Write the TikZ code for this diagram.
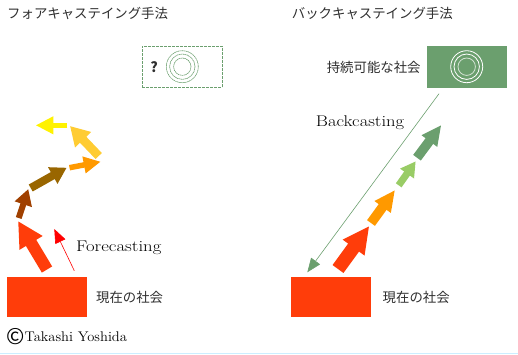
\documentclass[tikz,border=0pt]{standalone}
\usepackage{fontspec}
\usepackage{graphicx}
\usepackage{color}
\usetikzlibrary{arrows.meta}
\usetikzlibrary{positioning}
\newfontfamily\cjk{Noto Sans CJK JP}
\newcommand{\widetext}[2]{\scalebox{#1}[1]{#2}}
\definecolor{nowred}{HTML}{FF3D0A}
\definecolor{goalgreen}{HTML}{6B9F6E}
\definecolor{inkgray}{HTML}{2E2E2E}

\begin{document}
\begin{tikzpicture}[x=1pt,y=-1pt,node distance=9pt,
                    fat/.style n args={3}{line width=#1pt,-{Triangle[length=#2pt,width=#3pt]}},
                    thin arrow/.style={line width=0.6pt,-{Triangle[length=14pt,width=11pt]}},
                    nowbox/.style={rectangle,fill=nowred,minimum width=80pt,minimum height=39.5pt,inner sep=0pt},
                    goalbox/.style={rectangle,minimum width=80pt,minimum height=41pt,inner sep=0pt},
                    jp/.style={font=\cjk\fontsize{13.4}{13.4}\selectfont,text=inkgray,inner sep=0pt},
                    en/.style={font=\fontsize{15.5}{15.5}\selectfont,text=black,inner sep=0pt}]

  \useasboundingbox (0,0) rectangle (518,354);

  % titles
  \node[jp,anchor=west] (fore title) at (7,13.5) {フォアキャステイング手法};
  \node[jp,anchor=west] (back title) at (291.7,13.5) {バックキャステイング手法};

  % present and future boxes
  \node[nowbox] (now left) at (46.7,297) {};
  \node[nowbox] (now right) at (331.3,297) {};
  \node[jp,right=9pt of now left] (now left text) {現在の社会};
  \node[jp,right=11pt of now right] (now right text) {現在の社会};

  \node[goalbox,draw=goalgreen,line width=0.7pt,dash pattern=on 3pt off 1pt] (goal left) at (182.2,66.8) {};
  \node[goalbox,fill=goalgreen,minimum width=80.6pt,minimum height=42pt] (goal right) at (467,67) {};
  \node[jp,left=5.7pt of goal right] (goal right text) {持続可能な社会};
  \node[jp,font=\cjk\fontsize{14}{14}\selectfont\bfseries] (unknown) at (154,67) {?};

  % rings
  \foreach \r in {16,12.7,8.7}
    \draw[goalgreen,line width=0.6pt,dash pattern=on 1.5pt off 0.5pt] (182.3,66.7) circle (\r pt);
  \draw[white,line width=0.8pt] (466.7,66.7) circle (16pt);
  \draw[white,line width=0.8pt] (466.7,66.7) circle (12.7pt);
  \draw[white!70!goalgreen,line width=0.8pt] (466.7,66.7) circle (8.7pt);

  % forecasting path
  \coordinate (f0) at (47,269.5);
  \coordinate (f1) at (18,221);
  \coordinate (f2) at (18.7,218);
  \coordinate (f3) at (28.3,189);
  \coordinate (f4) at (30.7,188);
  \coordinate (f5) at (66.7,167.7);
  \coordinate (f6) at (69.5,167.7);
  \coordinate (f7) at (100.7,161.7);
  \coordinate (f8) at (98.7,156);
  \coordinate (f9) at (70,126);
  \coordinate (f10) at (67.3,125.3);
  \coordinate (f11) at (35.7,125.3);

  \draw[fat={12}{25.5}{25},nowred] (f0) -- (f1);
  \draw[fat={6}{16}{17},color={rgb,255:red,160;green,64;blue,0}] (f2) -- (f3);
  \draw[fat={8}{16}{18},color={rgb,255:red,153;green,102;blue,0}] (f4) -- (f5);
  \draw[fat={5.5}{17}{16},color={rgb,255:red,255;green,153;blue,0}] (f6) -- (f7);
  \draw[fat={8.7}{19}{21},color={rgb,255:red,255;green,204;blue,51}] (f8) -- (f9);
  \draw[fat={5}{17.6}{16.7},color=yellow] (f10) -- (f11);

  \coordinate (fs) at (74.3,270.7);
  \coordinate (fe) at (54.3,229);
  \draw[thin arrow,red] (fs) -- (fe);
  \node[en,anchor=base west] (fore text) at (76,251.3) {\widetext{1.21}{Forecasting}};

  % backcasting path
  \coordinate (b0) at (338,269);
  \coordinate (b1) at (369.3,226);
  \coordinate (b2) at (371,223);
  \coordinate (b3) at (395,190);
  \coordinate (b4) at (398.7,185.3);
  \coordinate (b5) at (415.7,161.3);
  \coordinate (b6) at (417,157.7);
  \coordinate (b7) at (441.3,125);

  \draw[fat={13.5}{26.7}{25},nowred] (b0) -- (b1);
  \draw[fat={9.7}{21}{18.6},color={rgb,255:red,255;green,153;blue,0}] (b2) -- (b3);
  \draw[fat={7}{15}{16},color={rgb,255:red,153;green,204;blue,102}] (b4) -- (b5);
  \draw[fat={9.5}{20}{18},goalgreen] (b6) -- (b7);

  \coordinate (bs) at (439,93.7);
  \coordinate (be) at (307.3,272.3);
  \draw[thin arrow,goalgreen] (bs) -- (be);
  \node[en,anchor=base west] (back text) at (315.7,126.5) {\widetext{1.2}{Backcasting}};

  % credit
  \node[en,anchor=base west,font=\fontsize{14}{14}\selectfont] (credit) at (6.2,341.5) {\raisebox{-2.5pt}{\cjk\fontsize{22}{22}\selectfont ©}\widetext{1.04}{Takashi Yoshida}};

  % bottom edge
  \coordinate (edge l) at (0,353.4);
  \coordinate (edge r) at (518,353.4);
  \draw[color={rgb,255:red,204;green,238;blue,255},line width=1pt] (edge l) -- (edge r);

\end{tikzpicture}
\end{document}
